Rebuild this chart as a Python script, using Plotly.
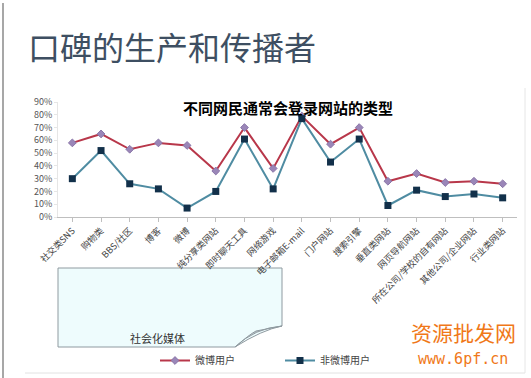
import plotly.graph_objects as go

categories = ["社交类SNS", "购物类", "BBS/社区", "博客", "微博", "纯分享类网站", "即时聊天工具",
              "网络游戏", "电子邮箱E-mail", "门户网站", "搜索引擎", "垂直类网站", "网页导航网站",
              "所在公司/学校的自有网站", "其他公司/企业网站", "行业类网站"]
weibo_users = [0.58, 0.65, 0.53, 0.58, 0.56, 0.36, 0.70, 0.38, 0.79, 0.57, 0.70, 0.28, 0.34, 0.27, 0.28, 0.26]
non_weibo_users = [0.30, 0.52, 0.26, 0.22, 0.07, 0.20, 0.61, 0.22, 0.77, 0.43, 0.61, 0.09, 0.21, 0.16, 0.18, 0.15]
y_ticks = [0, 0.1, 0.2, 0.3, 0.4, 0.5, 0.6, 0.7, 0.8, 0.9]
y_tick_labels = ["0%", "10%", "20%", "30%", "40%", "50%", "60%", "70%", "80%", "90%"]

W, H = 531, 378
L, R, T, B = 58, 14, 102, 161
pw, ph = W - L - R, H - T - B

def px(x):
    return (x - L) / pw

def py(y):
    return (H - B - y) / ph

fig = go.Figure()
fig.add_trace(go.Scatter(
    x=list(range(len(categories))), y=weibo_users, name="微博用户", mode="lines+markers",
    line=dict(color="#b8374a", width=2),
    marker=dict(symbol="diamond", size=6, color="#9a86b8", line=dict(color="#8a76a8", width=1)),
))
fig.add_trace(go.Scatter(
    x=list(range(len(categories))), y=non_weibo_users, name="非微博用户", mode="lines+markers",
    line=dict(color="#4f8ca2", width=2),
    marker=dict(symbol="square", size=7, color="#12304a"),
))

shapes = []
# sticky note
x0, x1 = px(58), px(282)
yt, yb = py(268), py(347)
shapes.append(dict(type="path", xref="paper", yref="paper", layer="below",
                   path=f"M {x0},{yt} L {x1},{yt} L {x1},{py(326)} Q {px(262)},{py(330)} {px(235)},{yb} L {x0},{yb} Z",
                   fillcolor="#eefcfd", line=dict(color="#8f9aa0", width=1)))
shapes.append(dict(type="path", xref="paper", yref="paper", layer="below",
                   path=f"M {x1},{py(326)} Q {px(255)},{py(328)} {px(235)},{yb} Q {px(250)},{py(334)} {px(256)},{py(331)} Z",
                   fillcolor="#b9c2c8", line=dict(color="#8f9aa0", width=1)))
# frame lines
shapes.append(dict(type="line", xref="paper", yref="paper", x0=px(3), x1=px(3), y0=py(3), y1=py(378),
                   line=dict(color="#8a8a8a", width=1.5)))
shapes.append(dict(type="line", xref="paper", yref="paper", x0=px(525), x1=px(525), y0=py(88), y1=py(373),
                   line=dict(color="#e6e6e6", width=1)))
shapes.append(dict(type="line", xref="paper", yref="paper", x0=px(25), x1=px(525), y0=py(373), y1=py(373),
                   line=dict(color="#e2e2e2", width=1)))

annotations = [
    dict(text="口碑的生产和传播者", xref="paper", yref="paper", x=px(26), y=py(46), xanchor="left", yanchor="middle",
         showarrow=False, font=dict(family="Noto Sans CJK SC", size=32, color="#3e4f62")),
    dict(text="<b>不同网民通常会登录网站的类型</b>", xref="paper", yref="paper", x=px(288), y=py(107),
         xanchor="center", yanchor="middle", showarrow=False,
         font=dict(family="Noto Sans CJK SC", size=15, color="#000000")),
    dict(text="社会化媒体", xref="paper", yref="paper", x=px(157), y=py(338), xanchor="center", yanchor="middle",
         showarrow=False, font=dict(family="Noto Sans CJK SC", size=11, color="#333333")),
    dict(text="资源批发网", xref="paper", yref="paper", x=px(463), y=py(332), xanchor="center", yanchor="middle",
         showarrow=False, font=dict(family="Noto Sans CJK SC", size=21, color="#f07818")),
    dict(text="www.6pf.cn", xref="paper", yref="paper", x=px(463), y=py(359), xanchor="center", yanchor="middle",
         showarrow=False, font=dict(family="DejaVu Sans Mono", size=15, color="#f07818")),
]

fig.update_layout(
    width=W, height=H, margin=dict(l=L, r=R, t=T, b=B),
    paper_bgcolor="white", plot_bgcolor="white",
    font=dict(family="Noto Sans CJK SC", color="#444444"),
    showlegend=True,
    legend=dict(orientation="h", xref="container", yref="container",
                x=155 / W, y=1 - 346 / H, xanchor="left", yanchor="top",
                font=dict(size=10, color="#444444"), itemwidth=30, bgcolor="rgba(0,0,0,0)",
                entrywidth=80),
    shapes=shapes, annotations=annotations,
)
fig.update_xaxes(
    tickmode="array", tickvals=list(range(len(categories))), ticktext=categories,
    tickangle=-45, tickfont=dict(size=9, color="#444444"), range=[-0.5, len(categories) - 0.5],
    showline=True, linecolor="#bfbfbf", linewidth=1, ticks="outside", tickson="boundaries",
    ticklen=4, tickcolor="#bfbfbf", showgrid=False, zeroline=False, automargin=False,
)
fig.update_yaxes(
    tickmode="array", tickvals=y_ticks, ticktext=y_tick_labels, range=[0, 0.9],
    tickfont=dict(size=9, color="#555555"), showline=True, linecolor="#e6e6e6",
    ticks="outside", ticklen=3, tickcolor="#e6e6e6", showgrid=False, zeroline=False, automargin=False,
)

fig.write_html(
    "out.html",
    config={"displayModeBar": False},
    post_script=(
        "var s=document.createElement('style');"
        "s.textContent='html,body{margin:0!important;padding:0!important;overflow:hidden!important;}';"
        "document.head.appendChild(s);"
    ),
)
